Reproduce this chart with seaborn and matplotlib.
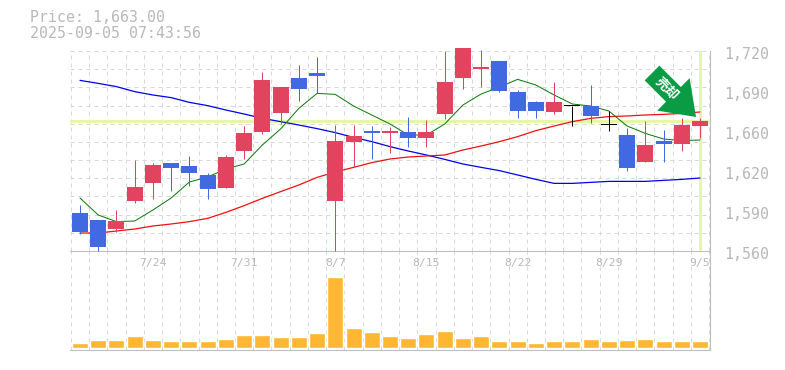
import numpy as np
import pandas as pd
import matplotlib
matplotlib.use("Agg")
import matplotlib.pyplot as plt
from matplotlib.transforms import ScaledTranslation
import seaborn as sns

opens = [1590.4,1584.8,1577.6,1600.0,1614.4,1630.4,1628.0,1620.8,1610.4,1640.0,1655.2,1670.4,1698.4,1702.4,1600.0,1647.2,1656.0,1654.4,1655.2,1650.4,1669.6,1698.4,1705.6,1712.0,1687.2,1679.2,1671.2,1676.0,1676.0,1660.8,1652.8,1631.2,1648.0,1645.6,1660.0]
closes = [1575.2,1563.2,1584.0,1611.2,1628.8,1626.4,1622.4,1609.6,1635.2,1654.4,1696.8,1691.2,1689.6,1700.0,1648.0,1652.0,1654.4,1656.0,1650.4,1655.2,1695.2,1722.4,1707.2,1688.0,1672.0,1672.0,1679.2,1676.0,1668.0,1660.8,1626.4,1644.8,1645.6,1660.8,1664.0]
highs = [1596.8,1584.8,1592.8,1632.8,1630.4,1630.4,1636.0,1622.4,1636.8,1660.0,1703.2,1691.2,1708.8,1715.2,1660.8,1660.8,1660.0,1658.9,1667.2,1664.8,1720.0,1722.4,1720.8,1712.0,1688.8,1680.0,1695.2,1676.0,1692.8,1672.0,1658.4,1664.0,1656.8,1666.4,1666.4]
lows = [1573.6,1560.3,1575.2,1598.4,1601.6,1608.0,1612.0,1601.6,1610.4,1633.6,1653.6,1661.6,1680.0,1686.1,1560.3,1627.2,1633.6,1638.4,1643.2,1643.2,1665.6,1689.6,1691.2,1687.2,1666.4,1666.4,1669.6,1660.0,1662.4,1656.0,1624.0,1631.2,1631.2,1640.0,1650.4]
ma_short = [1602.4,1588.8,1583.5,1584.0,1592.8,1602.4,1615.2,1619.2,1625.6,1629.6,1644.8,1657.6,1674.1,1686.1,1685.3,1676.0,1668.8,1661.6,1652.8,1652.8,1661.6,1676.8,1685.6,1691.2,1697.3,1692.8,1684.8,1677.6,1676.0,1672.0,1660.0,1654.1,1649.6,1648.3,1648.8]
ma_mid = [1574.4,1574.4,1576.0,1577.6,1580.0,1581.6,1583.5,1586.1,1590.9,1596.3,1602.1,1607.5,1612.8,1618.9,1623.2,1626.9,1630.7,1633.6,1635.2,1636.0,1636.8,1640.8,1644.0,1647.5,1651.5,1656.3,1660.0,1663.5,1666.1,1667.5,1668.0,1668.8,1669.3,1670.1,1671.2]
ma_long = [1696.5,1694.1,1691.5,1687.5,1684.8,1682.7,1678.9,1676.3,1672.8,1669.6,1666.1,1663.5,1660.8,1657.9,1654.7,1650.9,1647.5,1643.5,1640.0,1636.8,1633.3,1629.6,1626.9,1624.3,1620.8,1617.3,1614.1,1614.1,1614.9,1615.7,1615.7,1615.7,1616.5,1617.3,1618.4]
volumes = [5,8,8,12,8,7,7,7,9,13,13,11,11,15,71,20,16,12,10,14,17,10,12,7,7,5,7,7,9,7,8,9,7,7,7]
date_positions = [4,9,14,19,24,29,34]
date_labels = ["7/24","7/31","8/7","8/15","8/22","8/29","9/5"]
price_ticks = [1560,1592,1624,1656,1688,1720]
price_labels = ["1,560","1,590","1,620","1,660","1,690","1,720"]
current_price = 1663.8
header = ["Price: 1,663.00","2025-09-05 07:43:56"]

sns.set_theme(style="white")
plt.rcParams["font.family"] = ["DejaVu Sans Mono","Noto Sans CJK JP"]

GRAY = "#BFBFBF"; GRID = "#D8D8D8"; TXT = "#B8B8B8"
RED = "#E2435F"; BLUE = "#4169E1"; HL = "#E4F7A8"
W, H = 785, 370
idx = np.arange(len(opens))
df = pd.DataFrame({"i": idx, "o": opens, "c": closes, "h": highs, "l": lows,
                   "s": ma_short, "m": ma_mid, "g": ma_long, "v": volumes})

fig = plt.figure(figsize=(W/100, H/100), dpi=100, facecolor="white")
ax = fig.add_axes([70/W, (H-251)/H, 640/W, 200/H])
vax = fig.add_axes([70/W, (H-350)/H, 640/W, 99/H])
px = 0.72

xlim = (-0.548, 34.548)
bounds = list(idx - 0.5) + [34.5]
ygrid = [1560 + k*160/11 for k in range(12)]
gkw = dict(color=GRID, lw=1*px, dashes=(4, 4), zorder=0.5)
for x in bounds:
    ax.axvline(x, **gkw); vax.axvline(x, **gkw)
for y in ygrid:
    ax.axhline(y, **gkw)

ax.axhline(current_price, color=HL, lw=3*px, zorder=1)
ax.axvline(34, ymin=0.01, ymax=1, color=HL, lw=3*px, zorder=1)

for col, c, lw in (("g", "#0000EE", 1.25), ("m", "#F01010", 1.25), ("s", "#0A7A0A", 1.0)):
    sns.lineplot(data=df, x="i", y=col, color=c, lw=lw*px, ax=ax, zorder=2, legend=False, errorbar=None)

colors = [RED if c > o else (BLUE if c < o else "black") for o, c in zip(opens, closes)]
wicks = ax.vlines(idx, lows, highs, colors=colors, lw=1.0*px, zorder=3, clip_on=False)
wicks.set_snap(True)
tops = np.maximum(opens, closes); bots = np.minimum(opens, closes)
bar_h = np.where(tops == bots, 0.8, tops - bots)
ax.bar(idx, bar_h, bottom=bots, width=0.877, color=colors, lw=0, zorder=4, clip_on=False)

ax.annotate("", xy=(33.78, 1667.2), xytext=(31.37, 1702.4),
            arrowprops=dict(facecolor="#0A9B45", edgecolor="none", width=15, headwidth=33,
                            headlength=23, shrink=0), zorder=6)
ax.text(32.19, 1689.6, "売却", color="white", fontsize=9.5, fontweight="bold", rotation=-45,
        ha="center", va="center", rotation_mode="anchor", family=["Noto Sans CJK JP"], zorder=7)

ax.set_xlim(*xlim); ax.set_ylim(1560, 1720)
ax.set_xlabel(""); ax.set_ylabel("")
ax.yaxis.tick_right()
ax.set_yticks(price_ticks, price_labels)
ax.set_xticks(date_positions, date_labels)
ax.tick_params(axis="y", length=0, pad=10, labelsize=10.7, labelcolor=TXT)
ax.tick_params(axis="x", length=0, pad=5, labelsize=8.2, labelcolor=TXT)
down = ScaledTranslation(0, -2/72*0.72, fig.dpi_scale_trans)
for t in ax.get_yticklabels():
    t.set_transform(t.get_transform() + down)
for s in ("top", "left"):
    ax.spines[s].set_visible(False)
for s in ("right", "bottom"):
    ax.spines[s].set_color(GRAY); ax.spines[s].set_linewidth(1.1*px)
ax.patch.set_alpha(0)
ax.set_zorder(3)

sns.barplot(data=df, x="i", y="v", native_scale=True, width=0.877, color="#FFB733",
            saturation=1, ax=vax, zorder=2, errorbar=None)
vax.set_xlim(*xlim); vax.set_ylim(-2, 97)
vax.set_xticks([]); vax.set_yticks([])
vax.set_xlabel(""); vax.set_ylabel("")
for s in ("top", "left"):
    vax.spines[s].set_visible(False)
for s in ("right", "bottom"):
    vax.spines[s].set_color(GRAY); vax.spines[s].set_linewidth(1.1*px)

for line, ypx in zip(header, (18, 33)):
    fig.text(30/W, 1 - ypx/H, line, color=TXT, fontsize=10.7, ha="left", va="center")

fig.savefig("out.png", dpi=100)
